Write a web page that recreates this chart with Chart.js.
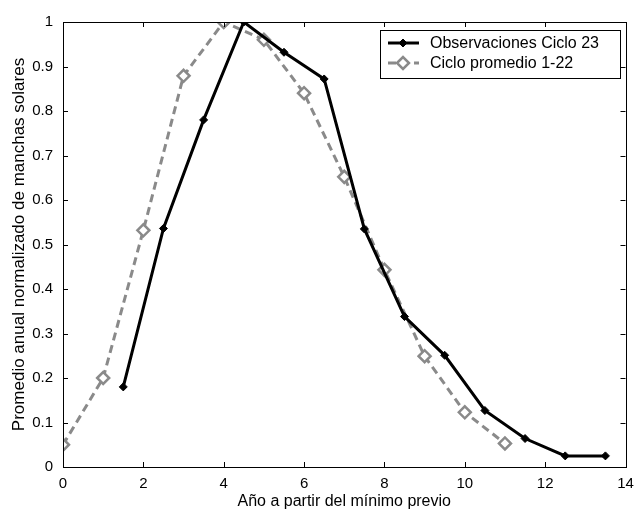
<!DOCTYPE html>
<html lang="es">
<head>
    <meta charset="UTF-8">
    <title>Ciclo solar 23</title>
    <style>
        html, body { margin: 0; padding: 0; background: #fff; }
        .chart-container { width: 634px; height: 511px; }
    </style>
</head>
<body>
    <div class="chart-container">
        <canvas id="myChart" width="634" height="511"></canvas>
    </div>

    <script src="https://cdn.jsdelivr.net/npm/chart.js"></script>
    <script>
        // Observaciones Ciclo 23
        const obsYears = [1.5, 2.5, 3.5, 4.5, 5.5, 6.5, 7.5, 8.5, 9.5, 10.5, 11.5, 12.5, 13.5];
        const obsValues = [0.18, 0.536, 0.78, 1.0, 0.932, 0.872, 0.535, 0.338, 0.251, 0.127, 0.064, 0.025, 0.025];

        // Ciclo promedio 1-22
        const avgYears = [0, 1, 2, 3, 4, 5, 6, 7, 8, 9, 10, 11];
        const avgValues = [0.05, 0.2, 0.532, 0.879, 1.0, 0.96, 0.84, 0.652, 0.443, 0.249, 0.123, 0.053];

        const xTicks = [0, 2, 4, 6, 8, 10, 12, 14];
        const yTicks = [0, 0.1, 0.2, 0.3, 0.4, 0.5, 0.6, 0.7, 0.8, 0.9, 1];

        const FONT = '"Liberation Sans", Arial, sans-serif';

        function toPoints(xs, ys) {
            return xs.map((x, i) => ({ x: x, y: ys[i] }));
        }

        // ticks hacia dentro en los cuatro lados + leyenda con recuadro
        const matlabBox = {
            id: 'matlabBox',
            afterDraw(chart) {
                const ctx = chart.ctx;
                const a = chart.chartArea;
                const xs = chart.scales.x, ys = chart.scales.y;
                const len = 5;
                ctx.save();
                ctx.strokeStyle = '#000';
                ctx.lineWidth = 1;
                ctx.beginPath();
                xTicks.forEach(v => {
                    const px = Math.round(xs.getPixelForValue(v)) + 0.5;
                    ctx.moveTo(px, a.bottom); ctx.lineTo(px, a.bottom - len);
                    ctx.moveTo(px, a.top); ctx.lineTo(px, a.top + len);
                });
                yTicks.forEach(v => {
                    const py = Math.round(ys.getPixelForValue(v)) + 0.5;
                    ctx.moveTo(a.left, py); ctx.lineTo(a.left + len, py);
                    ctx.moveTo(a.right, py); ctx.lineTo(a.right - len, py);
                });
                ctx.stroke();
                ctx.strokeRect(Math.round(a.left) + 0.5, Math.round(a.top) + 0.5,
                    Math.round(a.right - a.left), Math.round(a.bottom - a.top));

                // leyenda
                const lx = 380, ly = 30, lw = 240, lh = 48;
                ctx.fillStyle = '#fff';
                ctx.fillRect(lx, ly, lw, lh);
                ctx.strokeRect(lx + 0.5, ly + 0.5, lw, lh);
                ctx.font = '16px ' + FONT;
                ctx.textBaseline = 'middle';
                chart.data.datasets.forEach((ds, i) => {
                    const cy = ly + 13 + i * 20;
                    ctx.save();
                    ctx.strokeStyle = ds.borderColor;
                    ctx.lineWidth = ds.borderWidth;
                    ctx.setLineDash(ds.borderDash || []);
                    ctx.beginPath();
                    ctx.moveTo(lx + 8, cy); ctx.lineTo(lx + 39, cy);
                    ctx.stroke();
                    ctx.setLineDash([]);
                    ctx.fillStyle = ds.pointBackgroundColor;
                    ctx.strokeStyle = ds.pointBorderColor;
                    ctx.lineWidth = ds.pointBorderWidth;
                    Chart.helpers.drawPoint(ctx, {
                        pointStyle: ds.pointStyle,
                        radius: ds.pointRadius,
                        borderWidth: ds.pointBorderWidth,
                        rotation: 0
                    }, lx + 23, cy);
                    ctx.restore();
                    ctx.fillStyle = '#000';
                    ctx.fillText(ds.label, lx + 50, cy + 1);
                });
                ctx.restore();
            }
        };

        const ctx = document.getElementById('myChart').getContext('2d');
        const chart = new Chart(ctx, {
            type: 'line',
            data: {
                datasets: [
                    {
                        label: 'Observaciones Ciclo 23',
                        data: toPoints(obsYears, obsValues),
                        borderColor: '#000',
                        backgroundColor: '#000',
                        borderWidth: 3,
                        pointStyle: 'rectRot',
                        pointRadius: 4,
                        pointBorderWidth: 1,
                        pointBackgroundColor: '#000',
                        pointBorderColor: '#000',
                        tension: 0,
                        fill: false
                    },
                    {
                        label: 'Ciclo promedio 1-22',
                        data: toPoints(avgYears, avgValues),
                        borderColor: '#8a8a8a',
                        backgroundColor: '#fff',
                        borderWidth: 3,
                        borderDash: [8, 5],
                        pointStyle: 'rectRot',
                        pointRadius: 6,
                        pointBorderWidth: 2.5,
                        pointBackgroundColor: '#fff',
                        pointBorderColor: '#8a8a8a',
                        tension: 0,
                        fill: false
                    }
                ]
            },
            options: {
                responsive: false,
                animation: false,
                layout: { padding: { top: 22, right: 7, left: 0, bottom: 0 } },
                plugins: {
                    legend: { display: false },
                    tooltip: { enabled: false }
                },
                scales: {
                    x: {
                        type: 'linear',
                        min: 0,
                        max: 14,
                        afterBuildTicks: s => { s.ticks = xTicks.map(v => ({ value: v })); },
                        afterFit: s => { s.height = 44; s.paddingLeft = 0; s.paddingRight = 0; },
                        grid: { display: false, drawTicks: false },
                        border: { display: false },
                        ticks: {
                            color: '#000',
                            padding: 8,
                            font: { family: FONT, size: 15 }
                        },
                        title: {
                            display: true,
                            text: 'Año a partir del mínimo previo',
                            color: '#000',
                            padding: { top: 0, bottom: 0 },
                            font: { family: FONT, size: 16 }
                        }
                    },
                    y: {
                        min: 0,
                        max: 1,
                        afterBuildTicks: s => { s.ticks = yTicks.map(v => ({ value: v })); },
                        afterFit: s => { s.width = 63; s.paddingTop = 0; s.paddingBottom = 0; },
                        grid: { display: false, drawTicks: false },
                        border: { display: false },
                        ticks: {
                            color: '#000',
                            padding: 10,
                            font: { family: FONT, size: 15 },
                            callback: v => String(Math.round(v * 10) / 10)
                        },
                        title: {
                            display: true,
                            text: 'Promedio anual normalizado de manchas solares',
                            color: '#000',
                            padding: { top: 9, bottom: 0 },
                            font: { family: FONT, size: 17 }
                        }
                    }
                }
            },
            plugins: [matlabBox]
        });
    </script>
</body>
</html>
